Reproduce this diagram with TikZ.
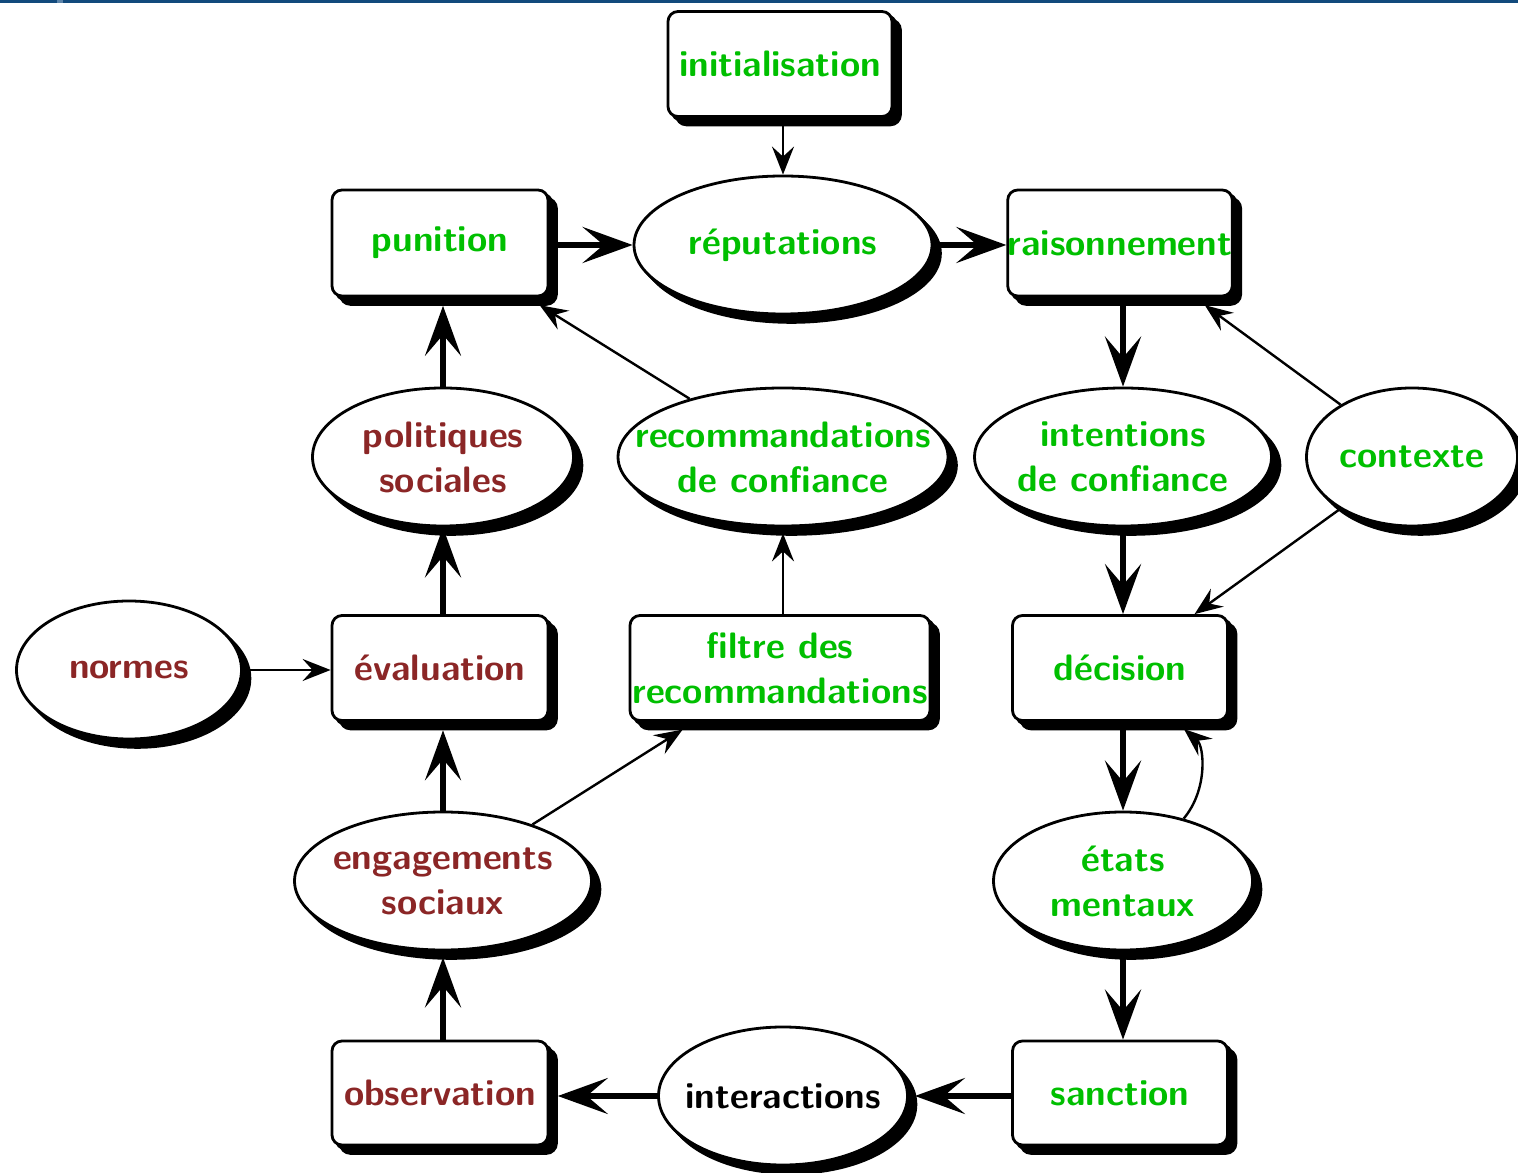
\documentclass[tikz,border=0pt]{standalone}
\usepackage{fontspec}
\usetikzlibrary{arrows.meta,shapes.geometric}
\definecolor{lblgreen}{RGB}{0,191,0}
\definecolor{lblred}{RGB}{139,38,38}
\definecolor{barblue}{RGB}{18,74,124}
\definecolor{barlight}{RGB}{92,132,170}
\tikzset{
  twocopy/.style={
    preaction={draw=black, fill=black, line width=0.7pt,
      transform canvas={xshift=2.1pt,yshift=-2.1pt}},
    preaction={draw=black, fill=black, line width=0.7pt,
      transform canvas={xshift=1pt,yshift=-1pt}}},
  box/.style 2 args={twocopy, rectangle, rounded corners=2.5pt, draw, fill=white,
    line width=0.7pt, inner sep=0pt, align=center,
    minimum width=#1, minimum height=#2},
  oval/.style 2 args={twocopy, ellipse, draw, fill=white,
    line width=0.7pt, inner sep=-25pt, align=center,
    minimum width=#1, minimum height=#2},
  flow/.style={line width=1.5pt, -{Stealth[length=12.5pt,width=9pt,inset=5.25pt]}},
  link/.style={line width=0.6pt, -{Stealth[length=7pt,width=5.5pt,inset=2.5pt]}},
  gr/.style={text=lblgreen},
  rd/.style={text=lblred},
}
\begin{document}
\begin{tikzpicture}[x=0.25pt,y=0.25pt,
  font=\sffamily\bfseries\fontsize{9.2}{11.25}\selectfont]
\useasboundingbox (0,0) rectangle (1518,-1173);
% header rule
\fill[barblue] (0,0) rectangle (1518,-3);
\fill[barlight] (57,0) rectangle (63,-3);

% nodes
\node[box={56pt}{26.25pt}, gr] (init) at (780,-64) {initialisation};
\node[oval={74.5pt}{34.5pt}, gr] (rep) at (783,-245) {réputations};
\node[box={54pt}{26.5pt}, gr] (pun) at (440,-243) {punition};
\node[box={56pt}{26.5pt}, gr] (rai) at (1120,-243) {raisonnement};

\node[oval={65.25pt}{34.5pt}, rd] (pol) at (443,-457) {politiques\\sociales};
\node[oval={82.5pt}{34.5pt}, gr] (rec) at (783,-457) {recommandations\\de confiance};
\node[oval={74.25pt}{34.5pt}, gr] (int) at (1123,-457) {intentions\\de confiance};
\node[oval={52.75pt}{34.5pt}, gr] (ctx) at (1412,-457) {contexte};

\node[oval={56.25pt}{34.5pt}, rd] (nor) at (129,-670) {normes};
\node[box={54pt}{26.25pt}, rd] (eva) at (440,-668) {évaluation};
\node[box={75pt}{26.25pt}, gr] (fil) at (780,-668) {filtre des\\recommandations};
\node[box={53.75pt}{26.25pt}, gr] (dec) at (1120,-668) {décision};

\node[oval={74.25pt}{34.5pt}, rd] (eng) at (443,-881) {engagements\\sociaux};
\node[oval={64.75pt}{34.5pt}, gr] (eta) at (1123,-881) {états\\mentaux};

\node[box={54pt}{26pt}, rd] (obs) at (440,-1093) {observation};
\node[oval={62.25pt}{34.5pt}] (itr) at (783,-1096) {interactions};
\node[box={53.75pt}{26pt}, gr] (san) at (1120,-1093) {sanction};

% main flow
\draw[link, shorten <=2.1pt] (init.south -| rep) -- (rep);
\draw[flow, shorten <=2.1pt] (pun.east |- rep) -- (rep);
\draw[flow, shorten <=1.4pt] (rep) -- (rep -| rai.west);
\draw[flow, shorten <=2.1pt] (rai.south -| int) -- (int);
\draw[flow, shorten <=1.5pt] (int) -- (int |- dec.north);
\draw[flow, shorten <=2.1pt] (dec.south -| eta) -- (eta);
\draw[flow, shorten <=1.5pt] (eta) -- (eta |- san.north);
\draw[flow, shorten >=1.5pt] (san.west |- itr) -- (itr);
\draw[flow, shorten >=2.1pt] (itr) -- (itr -| obs.east);
\draw[flow, shorten >=1.5pt] (obs.north -| eng) -- (eng);
\draw[flow, shorten >=2.1pt] (eng) -- (eng |- eva.south);
\draw[flow] (eva.north -| pol) -- (pol);
\draw[flow, shorten >=2.1pt] (pol) -- (pol |- pun.south);

% secondary links
\draw[link, shorten >=3.3pt] (ctx) -- (rai);
\draw[link] (ctx) -- (dec);
\draw[link, shorten >=2.8pt] (eta) to[bend right=45] (dec);
\draw[link, shorten >=3.6pt] (eng) -- (fil);
\draw[link, shorten <=1.8pt] (nor) -- (nor -| eva.west);
\draw[link, shorten >=1.5pt] (fil.north -| rec) -- (rec);
\draw[link, shorten >=3.7pt] (rec) -- (pun);
\end{tikzpicture}
\end{document}
